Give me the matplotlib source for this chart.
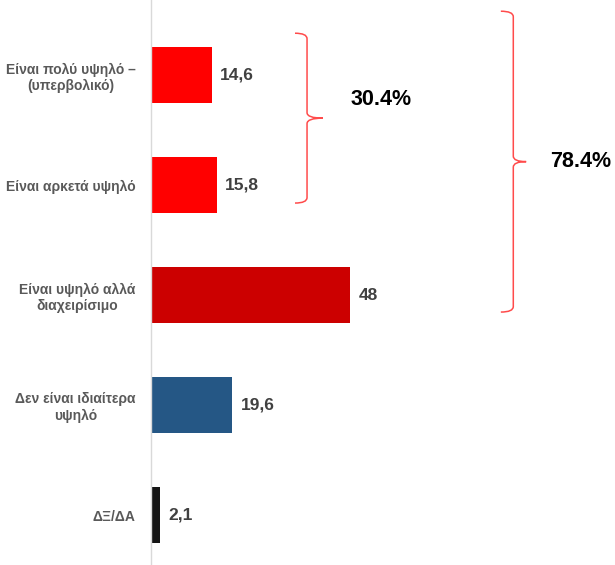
import matplotlib.pyplot as plt
from matplotlib.path import Path
from matplotlib.patches import PathPatch

plt.rcParams['font.family'] = ['Liberation Sans', 'DejaVu Sans']

categories = ['Είναι πολύ υψηλό –\n(υπερβολικό)', 'Είναι αρκετά υψηλό',
              'Είναι υψηλό αλλά\nδιαχειρίσιμο', 'Δεν είναι ιδιαίτερα\nυψηλό', 'ΔΞ/ΔΑ']
values = [14.6, 15.8, 48, 19.6, 2.1]
value_labels = ['14,6', '15,8', '48', '19,6', '2,1']
colors = ['#FF0000', '#FF0000', '#CC0000', '#255785', '#151515']
group_labels = ['30.4%', '78.4%']

fig = plt.figure(figsize=(6.15, 5.65), dpi=100)
ax = fig.add_axes([151 / 615, 0, 464 / 615, 1])

ypos = list(range(len(categories)))
ax.barh(ypos, values, height=0.51, color=colors)
for y, v, lab in zip(ypos, values, value_labels):
    ax.annotate(lab, (v, y), xytext=(6, 0), textcoords='offset points',
                va='center', ha='left', fontsize=12.5, fontweight='bold', color='#404040')

ax.set_xlim(0, 464 / 4.15)
ax.set_ylim(4.4545, -0.682)
ax.set_yticks(ypos)
ax.set_yticklabels(categories, fontsize=10, fontweight='bold', color='#595959',
                   linespacing=1.25, ha='right', multialignment='center')
ax.tick_params(axis='y', length=0, pad=11)
ax.set_xticks([])
for s in ['top', 'right', 'bottom']:
    ax.spines[s].set_visible(False)
ax.spines['left'].set_color('#D9D9D9')
ax.spines['left'].set_linewidth(1)


def brace(x0, x1, xt, y0, y1, r=0.05):
    ym = (y0 + y1) / 2
    verts = [(x0, y0), (x1, y0), (x1, y0 + r), (x1, ym - r), (x1, ym), (xt, ym),
             (x1, ym), (x1, ym + r), (x1, y1 - r), (x1, y1), (x0, y1)]
    codes = [Path.MOVETO, Path.CURVE3, Path.CURVE3, Path.LINETO, Path.CURVE3, Path.CURVE3,
             Path.CURVE3, Path.CURVE3, Path.LINETO, Path.CURVE3, Path.CURVE3]
    ax.add_patch(PathPatch(Path(verts, codes), fill=False, edgecolor='#FF4B4B',
                           linewidth=1.1, clip_on=False))


# bracket over the first two bars, then over the first three
brace(34.7, 37.6, 41.4, -0.38, 1.164)
brace(84.3, 87.3, 90.4, -0.58, 2.155)
ax.text(55.4, 0.22, group_labels[0], ha='center', va='center',
        fontsize=15.5, fontweight='bold', color='black')
ax.text(103.6, 0.79, group_labels[1], ha='center', va='center',
        fontsize=15.5, fontweight='bold', color='black')

fig.savefig('out.png', dpi=100)
